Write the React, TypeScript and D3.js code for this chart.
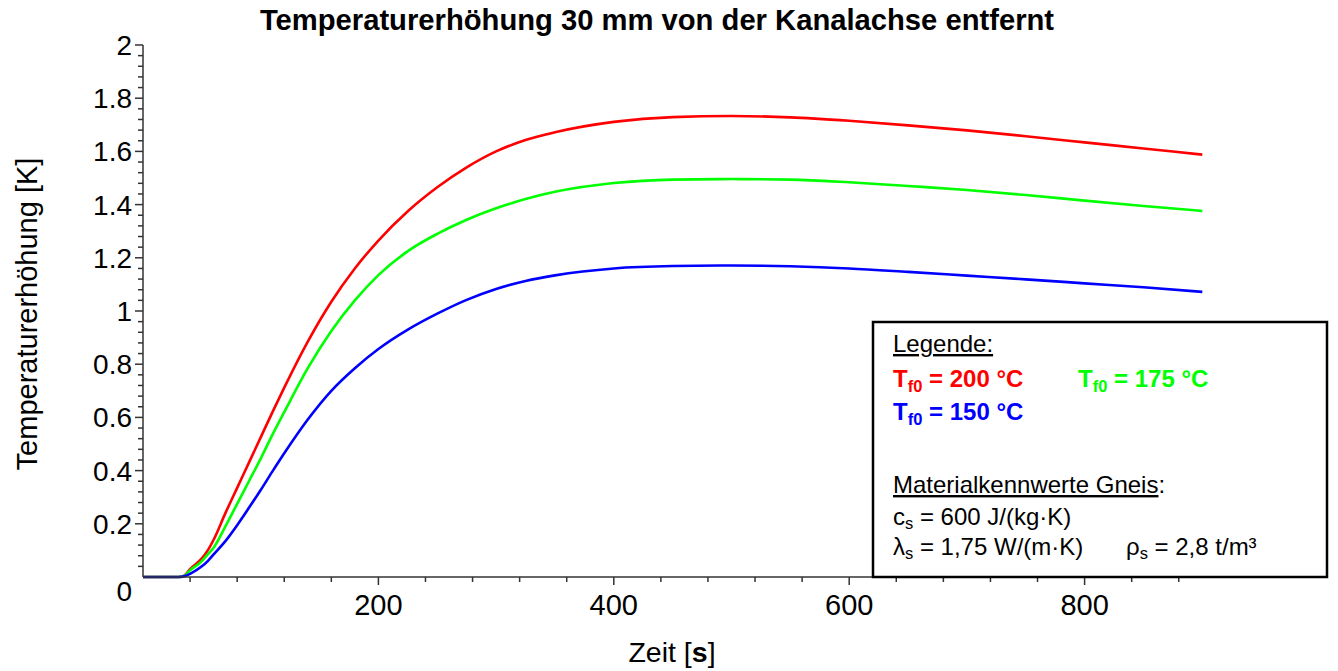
import React from "react";
import * as d3 from "d3";

const times = [0, 30, 35, 40, 50, 55, 60, 70, 80, 90, 100, 110, 120, 140, 160, 180, 200, 225, 250, 275, 300, 325, 350, 400, 450, 500, 550, 600, 650, 700, 750, 800, 850, 900];
const series200 = [0, 0, 0.005, 0.03, 0.07, 0.10, 0.14, 0.24, 0.335, 0.43, 0.525, 0.62, 0.712, 0.885, 1.035, 1.16, 1.265, 1.375, 1.465, 1.54, 1.6, 1.643, 1.672, 1.711, 1.729, 1.733, 1.728, 1.715, 1.698, 1.679, 1.657, 1.634, 1.611, 1.588];
const series175 = [0, 0, 0.004, 0.025, 0.06, 0.085, 0.11, 0.19, 0.275, 0.36, 0.445, 0.535, 0.62, 0.785, 0.925, 1.04, 1.135, 1.225, 1.29, 1.343, 1.386, 1.421, 1.448, 1.481, 1.494, 1.496, 1.494, 1.484, 1.47, 1.455, 1.436, 1.415, 1.395, 1.376];
const series150 = [0, 0, 0.003, 0.012, 0.04, 0.06, 0.085, 0.135, 0.195, 0.26, 0.327, 0.397, 0.465, 0.592, 0.70, 0.785, 0.857, 0.93, 0.99, 1.042, 1.083, 1.113, 1.134, 1.16, 1.169, 1.171, 1.168, 1.16, 1.147, 1.133, 1.119, 1.104, 1.089, 1.072];

const xMajorTicks = [200, 400, 600, 800];
const xMinorTicks = [40, 80, 120, 160, 240, 280, 320, 360, 440, 480, 520, 560, 640, 680, 720, 760, 840, 880];
const yMajorTicks = [0.2, 0.4, 0.6, 0.8, 1, 1.2, 1.4, 1.6, 1.8, 2];
const yTickLabels = ["0.2", "0.4", "0.6", "0.8", "1", "1.2", "1.4", "1.6", "1.8", "2"];

const seriesList = [
  { name: "200", values: series200, color: "#ff0000" },
  { name: "175", values: series175, color: "#00ff00" },
  { name: "150", values: series150, color: "#0000ff" },
];

const FONT = "'Liberation Sans', Arial, Helvetica, sans-serif";

export default function App() {
  const x = d3.scaleLinear().domain([0, 1000]).range([143, 1320]);
  const y = d3.scaleLinear().domain([0, 2]).range([577, 45]);
  const yMinor = d3.range(0.04, 2.0001, 0.04).filter((v) => Math.abs(v / 0.2 - Math.round(v / 0.2)) > 1e-6);

  const line = d3
    .line<number>()
    .x((_, i) => x(times[i]))
    .y((d) => y(d))
    .curve(d3.curveMonotoneX);

  const axisColor = "#333";

  return (
    <svg width={1338} height={671} style={{ position: "absolute", left: 0, top: 0, background: "#fff" }} fontFamily={FONT}>
      <rect x={0} y={0} width={1338} height={671} fill="#fff" />
      {/* title */}
      <text x={657} y={30} textAnchor="middle" fontSize={29.2} fontWeight="bold" fill="#000">
        Temperaturerhöhung 30 mm von der Kanalachse entfernt
      </text>

      {/* curves */}
      {seriesList.map((s) => (
        <path key={s.name} d={line(s.values) || ""} fill="none" stroke={s.color} strokeWidth={2.6} strokeLinejoin="round" />
      ))}

      {/* y axis */}
      <line x1={x(0)} x2={x(0)} y1={y(2)} y2={y(0)} stroke={axisColor} strokeWidth={1.5} />
      {yMajorTicks.map((v) => (
        <line key={"ym" + v} x1={x(0) - 8} x2={x(0)} y1={y(v)} y2={y(v)} stroke={axisColor} strokeWidth={1.5} />
      ))}
      {yMinor.map((v) => (
        <line key={"yn" + v} x1={x(0) - 5} x2={x(0)} y1={y(v)} y2={y(v)} stroke={axisColor} strokeWidth={1.5} />
      ))}
      {yMajorTicks.map((v, i) => (
        <text key={"yl" + v} x={132} y={y(v)} dy="0.36em" textAnchor="end" fontSize={28} fill="#000">
          {yTickLabels[i]}
        </text>
      ))}
      <text x={132} y={y(0) + 14} dy="0.36em" textAnchor="end" fontSize={28} fill="#000">0</text>

      {/* x axis */}
      <line x1={x(0)} x2={1326} y1={y(0)} y2={y(0)} stroke={axisColor} strokeWidth={1.5} />
      {xMajorTicks.map((v) => (
        <line key={"xm" + v} x1={x(v)} x2={x(v)} y1={y(0)} y2={y(0) + 8} stroke={axisColor} strokeWidth={1.5} />
      ))}
      {xMinorTicks.map((v) => (
        <line key={"xn" + v} x1={x(v)} x2={x(v)} y1={y(0)} y2={y(0) + 5} stroke={axisColor} strokeWidth={1.5} />
      ))}
      {xMajorTicks.map((v) => (
        <text key={"xl" + v} x={x(v)} y={615} textAnchor="middle" fontSize={29} fill="#000">
          {v}
        </text>
      ))}

      {/* axis titles */}
      <text x={672} y={662} textAnchor="middle" fontSize={28.5} fill="#000">
        Zeit [<tspan fontWeight="bold">s</tspan>]
      </text>
      <text transform="translate(37,314) rotate(-90)" textAnchor="middle" fontSize={29} fill="#000">
        Temperaturerhöhung [K]
      </text>

      {/* legend box */}
      <rect x={873} y={322} width={454} height={255} fill="#fff" stroke="#000" strokeWidth={2.5} />
      <text x={893} y={352} fontSize={24} fill="#000" textDecoration="underline">Legende:</text>
      <text x={893} y={387} fontSize={24} fontWeight="bold" fill="#ff0000">
        T<tspan fontSize={16.5} dy={5}>f0</tspan><tspan dy={-5}> = 200 °C</tspan>
      </text>
      <text x={1078} y={387} fontSize={24} fontWeight="bold" fill="#00ff00">
        T<tspan fontSize={16.5} dy={5}>f0</tspan><tspan dy={-5}> = 175 °C</tspan>
      </text>
      <text x={893} y={420} fontSize={24} fontWeight="bold" fill="#0000ff">
        T<tspan fontSize={16.5} dy={5}>f0</tspan><tspan dy={-5}> = 150 °C</tspan>
      </text>
      <text x={893} y={493} fontSize={24} fill="#000">
        <tspan textDecoration="underline">Materialkennwerte Gneis</tspan>:
      </text>
      <text x={893} y={525} fontSize={24} fill="#000">
        c<tspan fontSize={16.5} dy={4}>s</tspan><tspan dy={-4}> = 600 J/(kg·K)</tspan>
      </text>
      <text x={893} y={555} fontSize={24} fill="#000">
        λ<tspan fontSize={16.5} dy={4}>s</tspan><tspan dy={-4}> = 1,75 W/(m·K)</tspan>
      </text>
      <text x={1126} y={555} fontSize={24} fill="#000">
        ρ<tspan fontSize={16.5} dy={4}>s</tspan><tspan dy={-4}> = 2,8 t/m³</tspan>
      </text>
    </svg>
  );
}
